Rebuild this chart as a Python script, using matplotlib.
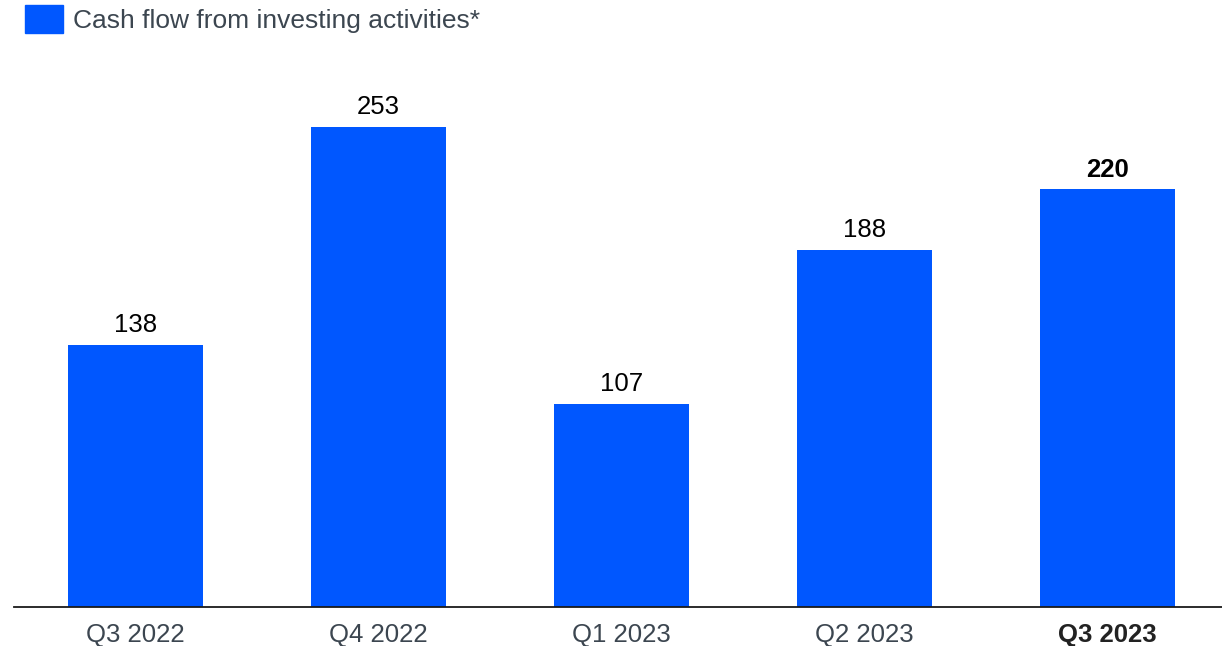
import matplotlib.pyplot as plt
from matplotlib.patches import Rectangle

plt.rcParams['font.family'] = ['Liberation Sans', 'DejaVu Sans']

quarters = ['Q3 2022', 'Q4 2022', 'Q1 2023', 'Q2 2023', 'Q3 2023']
investing_cf = [138, 253, 107, 188, 220]
series_name = 'Cash flow from investing activities*'

bar_color = '#0057FF'
label_gray = '#3C4650'

fig = plt.figure(figsize=(12.22, 6.46), dpi=100)
ax = fig.add_axes([14 / 1222, 39.5 / 646, 1208 / 1222, 546.5 / 646])

x = range(len(quarters))
bars = ax.bar(x, investing_cf, width=0.556, color=bar_color)

last = len(quarters) - 1
for i, (b, v) in enumerate(zip(bars, investing_cf)):
    ax.annotate(str(v), (b.get_x() + b.get_width() / 2, v),
                xytext=(0, 5.5), textcoords='offset points',
                ha='center', va='bottom', fontsize=18.5, color='black',
                fontweight='bold' if i == last else 'normal')

ax.set_xlim(-0.5, 4.47)
ax.set_ylim(0, 288.3)
ax.set_xticks(list(x))
ax.set_xticklabels(quarters, fontsize=18.5, color=label_gray)
ax.get_xticklabels()[last].set_fontweight('bold')
ax.get_xticklabels()[last].set_color('#222222')
ax.tick_params(axis='x', length=0, pad=12)
ax.set_yticks([])
for side in ['top', 'right', 'left']:
    ax.spines[side].set_visible(False)
ax.spines['bottom'].set_color('#1a1a1a')
ax.spines['bottom'].set_linewidth(1.3)

# legend swatch and label
fig.patches.append(Rectangle((25 / 1222, 1 - 33 / 646), 38 / 1222, 28 / 646,
                             transform=fig.transFigure, color=bar_color))
fig.text(73 / 1222, 1 - 21 / 646, series_name, fontsize=19,
         color=label_gray, va='center', ha='left')

fig.savefig('out.png', dpi=100)
